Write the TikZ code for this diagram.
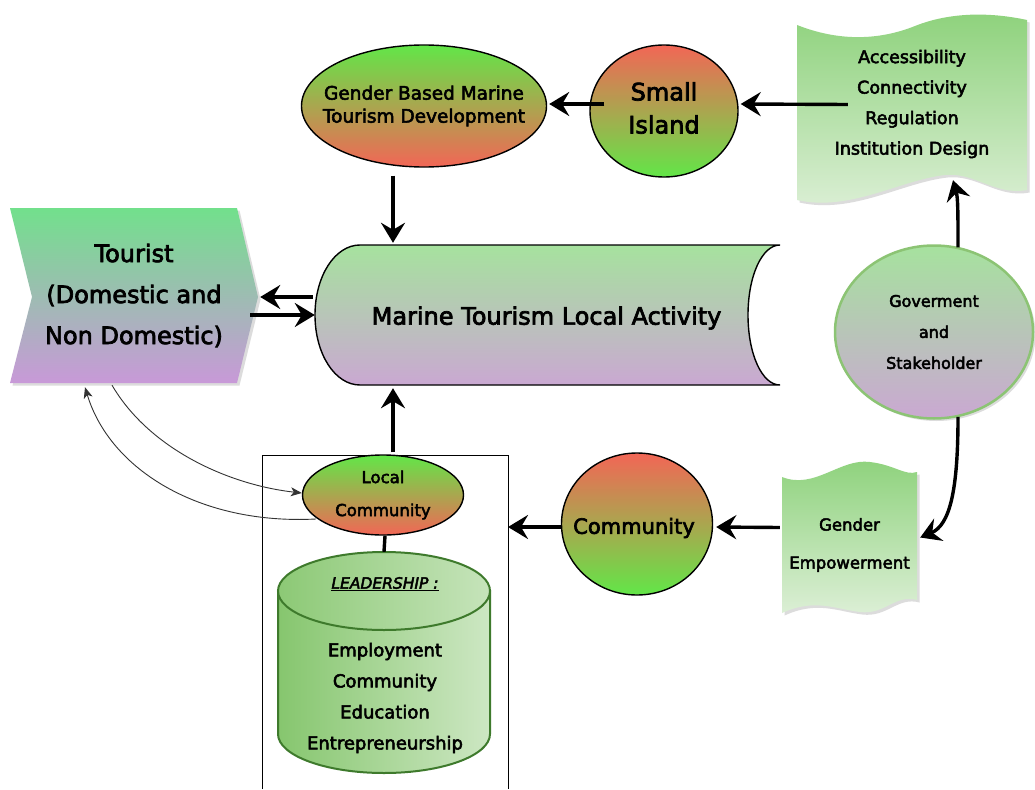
\documentclass[tikz,border=0pt]{standalone}
\usepackage{fontspec}
\setmainfont{DejaVu Sans}[RawFeature={embolden=3}]
\usetikzlibrary{shapes.geometric,arrows.meta,shadows,calc}
\definecolor{cgreen}{HTML}{62E648}
\definecolor{cred}{HTML}{F26656}
\definecolor{tgreen}{HTML}{72E08C}
\definecolor{tpurp}{HTML}{C899D8}
\definecolor{mgreen}{HTML}{A6E29E}
\definecolor{mpurp}{HTML}{CAA8D2}
\definecolor{wtop}{HTML}{8ED27C}
\definecolor{wbot}{HTML}{DCEFD6}
\definecolor{cylL}{HTML}{86C66E}
\definecolor{cylR}{HTML}{CDE7C3}
\definecolor{cylB}{HTML}{3E7A2C}
\definecolor{govB}{HTML}{8CC474}
\tikzset{
  arr/.style={line width=3.4pt, -{Stealth[length=20pt,width=24pt,inset=7pt]}},
  thinarr/.style={line width=0.9pt, draw=black!80, -{Stealth[length=11pt,width=9pt,inset=3pt]}},
  shad/.style={drop shadow={shadow xshift=2.5pt, shadow yshift=-2.5pt, opacity=0.3, fill=black!45}},
  oval/.style={ellipse, draw=black, line width=1.4pt, inner sep=0pt, align=center, text=black},
  txt/.style={align=center, text=black, inner sep=0pt},
}
\begin{document}
\begin{tikzpicture}[x=1pt,y=-1pt]
\fill[white] (0,0) rectangle (1035,789);
\useasboundingbox (0,0) rectangle (1035,789);

% open box around local community
\draw[line width=0.9pt] (262,789) -- (262,455) -- (508,455) -- (508,789);
\coordinate (boxtr) at (508,455);

% Accessibility wave
\path[shad, top color=wtop, bottom color=wbot]
  (797,25) .. controls (840,42) and (880,40) .. (915,26)
  .. controls (950,12) and (990,12) .. (1027,20) -- (1027,190)
  .. controls (995,196) and (975,172) .. (945,175)
  .. controls (900,180) and (850,212) .. (797,200) -- cycle;
\node[txt, minimum width=230pt, minimum height=175pt, font=\fontsize{17.5}{30.5}\selectfont] (acc) at (912,104)
  {Accessibility\\Connectivity\\Regulation\\Institution Design};

% Gender Empowerment wave
\path[shad, top color=wtop, bottom color=wbot]
  (782,477) .. controls (815,490) and (840,458) .. (870,462)
  .. controls (895,465) and (905,476) .. (917,472) -- (917,600)
  .. controls (895,594) and (885,615) .. (860,612)
  .. controls (835,609) and (815,598) .. (782,613) -- cycle;
\node[txt, minimum width=135pt, minimum height=145pt, font=\fontsize{16.5}{38}\selectfont] (ge) at (849.5,545)
  {Gender\\Empowerment};

% Tourist chevron
\path[shad, top color=tgreen, bottom color=tpurp]
  (10,208) -- (237,208) -- (258,297) -- (237,383) -- (10,383) -- (32,297) -- cycle;
\node[txt, minimum width=248pt, minimum height=175pt, font=\fontsize{24}{41}\selectfont] (tour) at (134,295.5)
  {Tourist\\(Domestic and\\Non Domestic)};

% Marine Tourism Local Activity
\path[draw=black, line width=1.4pt, top color=mgreen, bottom color=mpurp]
  (780,245) -- (360,245) .. controls (335,245) and (315,276) .. (315,315)
  .. controls (315,354) and (335,385) .. (360,385) -- (780,385)
  .. controls (762,385) and (748,354) .. (748,315)
  .. controls (748,276) and (762,245) .. (780,245) -- cycle;
\node[minimum width=465pt, minimum height=140pt, inner sep=0pt] (mtla) at (547.5,315) {};
\node[txt, font=\fontsize{24}{28}\selectfont] (mtlat) at ($(mtla)+(-1,3)$) {Marine Tourism Local Activity};

% Ovals
\node[oval, top color=cgreen, bottom color=cred, minimum width=245pt, minimum height=122pt] (gbm) at (424,106) {};
\node[txt, font=\fontsize{18.5}{23}\selectfont] (gbmt) at ($(gbm)+(0,0)$) {Gender Based Marine\\Tourism Development};
\node[oval, top color=cred, bottom color=cgreen, minimum width=148pt, minimum height=132pt] (si) at (664,111) {};
\node[txt, font=\fontsize{24}{33}\selectfont] (sit) at ($(si)+(0,-3)$) {Small\\Island};
\node[oval, top color=cred, bottom color=cgreen, minimum width=151pt, minimum height=142pt] (com) at (637,524) {};
\node[txt, font=\fontsize{21}{25}\selectfont] (comt) at ($(com)+(-3,4)$) {Community};
\node[oval, top color=cgreen, bottom color=cred, minimum width=161pt, minimum height=80pt, font=\fontsize{16.5}{33}\selectfont] (lc) at (383,495)
  {Local\\Community};
\node[oval, shad, draw=govB, line width=2.5pt, top color=mgreen, bottom color=mpurp, minimum width=198pt, minimum height=173pt, font=\fontsize{16}{31}\selectfont] (gov) at (934,332)
  {Goverment\\and\\Stakeholder};

% Cylinder (leadership)
\path[draw=cylB, line width=2pt, left color=cylL, right color=cylR]
  (278,591) -- (278,734) .. controls (278,755.5) and (325.5,773) .. (384,773)
  .. controls (442.5,773) and (490,755.5) .. (490,734) -- (490,591) -- cycle;
\path[draw=cylB, line width=2pt, left color=cylL!95, right color=cylR!90!cylL]
  (278,591) .. controls (278,569.5) and (325.5,552) .. (384,552)
  .. controls (442.5,552) and (490,569.5) .. (490,591)
  .. controls (490,612.5) and (442.5,630) .. (384,630)
  .. controls (325.5,630) and (278,612.5) .. (278,591) -- cycle;
\node[minimum width=212pt, minimum height=221pt, inner sep=0pt] (cyl) at (384,662.5) {};
\node[txt, font=\fontsize{15.5}{18}\selectfont\itshape] (lead) at (385,584) {\underline{LEADERSHIP :}};
\node[txt, font=\fontsize{18}{31}\selectfont] (cyltxt) at (385,698)
  {Employment\\Community\\Education\\Entrepreneurship};

% Connectors
\draw[arr] ($(si.west)+(15,-7)$) -- ($(gbm.east)+(2,-2)$);
\draw[arr] ($(acc.west)+(51,0.5)$) -- ($(si.east)+(2,-7)$);
\draw[arr] ($(gbm.south)+(-31,8)$) -- ($(mtla.north)+(-154.5,-2)$);
\draw[arr] ($(mtla.west)+(-2,-18)$) -- ($(tour.east)+(2,1.5)$);
\draw[arr] ($(tour.east)+(-8,19.5)$) -- (mtla.west);
\draw[arr] ($(lc.north)+(10,-2)$) -- ($(mtla.south)+(-154.5,3)$);
\draw[arr] ($(gov.north)+(24,3)$) .. controls (958,215) and (958,198) .. ($(acc.south)+(41,-11.5)$);
\draw[arr] ($(gov.south)+(24,-3)$) .. controls (958,490) and (950,525) .. ($(ge.east)+(3,-7.5)$);
\draw[arr] ($(ge.west)+(-2,-17.5)$) -- ($(com.east)+(3,3)$);
\draw[arr] ($(com.west)+(0,3)$) -- ($(boxtr)+(0,72)$);
\draw[line width=3.4pt] ($(lc.south)+(2,0)$) -- (cyl.north);

\draw[thinarr] ($(tour.south)+(-22,2)$) .. controls (150,450) and (230,485) .. ($(lc.west)+(0,-2)$);
\draw[thinarr] ($(lc.west)+(14,24)$) .. controls (200,525) and (110,470) .. ($(tour.south)+(-49,4)$);
\end{tikzpicture}
\end{document}
